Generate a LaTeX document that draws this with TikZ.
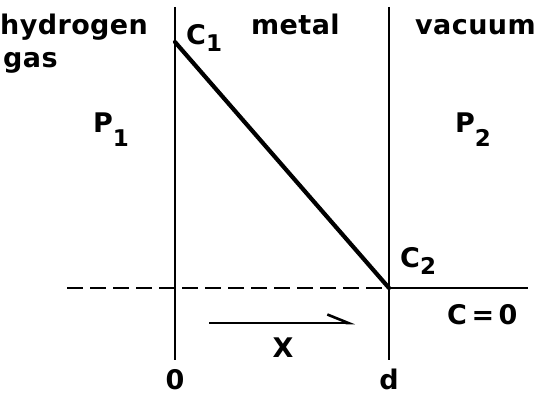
\documentclass[tikz,border=0pt]{standalone}
\usepackage{fontspec}
\setmainfont{DejaVu Sans}[LetterSpace=1.5]
\usetikzlibrary{arrows.meta}
\newcommand{\lowsub}[2][7pt]{\raisebox{-#1}{\fontsize{23}{23}\selectfont #2}}
\tikzset{
  lbl/.style={inner sep=0pt, font=\fontsize{27}{29}\selectfont\bfseries},
  wall/.style={line width=2.6pt},
  profile/.style={line width=4.2pt, line cap=round},
  zero/.style={line width=2.6pt, dash pattern=on 16pt off 7pt}
}
\begin{document}
\begin{tikzpicture}[x=1pt,y=-1pt]
\useasboundingbox (0,0) rectangle (536,395);
% boundaries of the metal
\coordinate (lt) at (175,7);
\coordinate (lb) at (175,360);
\coordinate (rt) at (389,7);
\coordinate (rb) at (389,360);
\coordinate (c1) at (175,42);
\coordinate (c2) at (389,288);
\coordinate (zl) at (67,288);
\coordinate (zr) at (528,288);
\coordinate (xa) at (209,323);
\coordinate (xb) at (355,323);
\draw[wall] (lt) -- (lb);
\draw[wall] (rt) -- (rb);
\draw[zero] (zl) -- (c2);
\draw[wall] (c2) -- (zr);
\draw[profile] (c1) -- (c2);
\draw[wall, -{Straight Barb[left, length=21pt, width=17pt, line width=2.6pt]}] (xa) -- (xb);
% labels
\node[lbl, anchor=base west] (hyd) at (0,35) {hydrogen};
\node[lbl, anchor=base west] (gas) at (3,68) {gas};
\node[lbl, anchor=base west] (met) at (251,35) {metal};
\node[lbl, anchor=base west] (vac) at (415,35) {vacuum};
\node[lbl, anchor=base west] (lc1) at (186,45) {C\lowsub{1}};
\node[lbl, anchor=base west] (lp1) at (93,133) {P\lowsub[14pt]{1}};
\node[lbl, anchor=base west] (lp2) at (455,133) {P\lowsub[14pt]{2}};
\node[lbl, anchor=base west] (lc2) at (400,268) {C\lowsub{2}};
\node[lbl, anchor=base west] (lc0) at (447,325) {C\,=\,0};
\node[lbl, anchor=base] (lx) at (283,358) {X};
\node[lbl, anchor=base] (l0) at (175,390) {0};
\node[lbl, anchor=base] (ld) at (389,390) {d};
\end{tikzpicture}
\end{document}
